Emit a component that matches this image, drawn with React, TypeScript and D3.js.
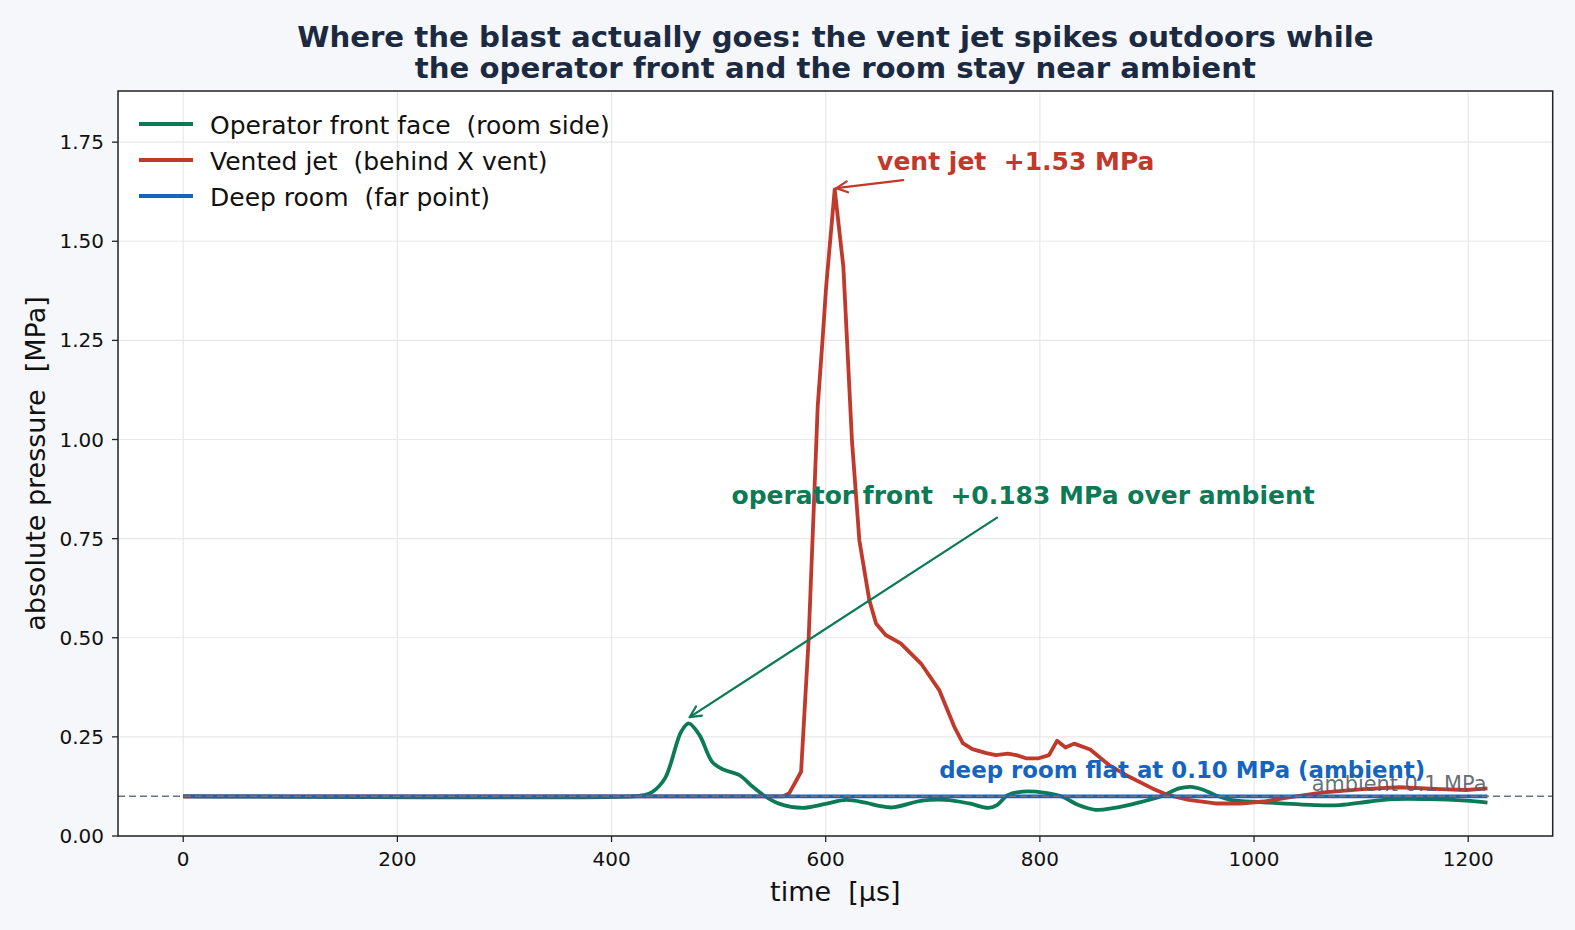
import React from "react";
import * as d3 from "d3";

// ---------- data ----------
const tFront = [0, 420, 430, 438, 450, 465, 472, 482, 494, 504, 519, 532, 544, 557, 578, 600, 619, 637, 650, 662, 690, 712, 734, 752, 760, 770, 784, 805, 821, 836, 852, 868, 892, 914, 930, 941, 951, 964, 978, 1009, 1056, 1080, 1108, 1130, 1164, 1198, 1218];
const pFront = [0.1, 0.1, 0.103, 0.111, 0.146, 0.263, 0.284, 0.255, 0.187, 0.168, 0.154, 0.124, 0.099, 0.081, 0.071, 0.081, 0.091, 0.084, 0.076, 0.072, 0.089, 0.091, 0.082, 0.071, 0.078, 0.103, 0.112, 0.109, 0.099, 0.078, 0.066, 0.07, 0.084, 0.101, 0.12, 0.124, 0.118, 0.103, 0.091, 0.085, 0.078, 0.078, 0.087, 0.093, 0.093, 0.089, 0.084];

const tJet = [0, 560, 566, 577, 584, 589.5, 592.5, 597, 600.4, 608.4, 616.5, 624.5, 631.4, 640.7, 647, 656, 670, 689, 706, 720, 728, 737, 750, 759, 770, 778, 787, 799, 808.5, 816, 824, 832, 847, 864.5, 883, 905, 920, 939, 964, 987, 1009, 1034, 1065, 1102, 1136, 1174, 1198, 1218];
const pJet = [0.1, 0.1, 0.108, 0.162, 0.494, 0.872, 1.082, 1.25, 1.385, 1.631, 1.435, 0.998, 0.746, 0.595, 0.536, 0.507, 0.486, 0.435, 0.368, 0.276, 0.234, 0.219, 0.209, 0.204, 0.208, 0.204, 0.196, 0.196, 0.204, 0.24, 0.223, 0.233, 0.218, 0.179, 0.15, 0.12, 0.103, 0.091, 0.082, 0.082, 0.087, 0.098, 0.11, 0.118, 0.123, 0.118, 0.116, 0.12];

const tDeep = [0, 1218];
const pDeep = [0.1, 0.1];

const AMBIENT = 0.1;
const xTicks = [0, 200, 400, 600, 800, 1000, 1200];
const yTicks = [0, 0.25, 0.5, 0.75, 1.0, 1.25, 1.5, 1.75];

const seriesNames = [
  "Operator front face  (room side)",
  "Vented jet  (behind X vent)",
  "Deep room  (far point)",
];
const titleLines = [
  "Where the blast actually goes: the vent jet spikes outdoors while",
  "the operator front and the room stay near ambient",
];

// ---------- style ----------
const W = 1575, H = 930;
const L = 118, R = 1552.7, T = 91, B = 836;
const GREEN = "#0b7a55", RED = "#c0392b", BLUE = "#1565c0";
const FONT = "DejaVu Sans";
const PRE: any = { whiteSpace: "pre" };

function Arrow({ x1, y1, x2, y2, color }: any) {
  const ang = Math.atan2(y2 - y1, x2 - x1);
  const hl = 11, hw = 5.5;
  const bx = x2 - hl * Math.cos(ang), by = y2 - hl * Math.sin(ang);
  const px = -Math.sin(ang) * hw, py = Math.cos(ang) * hw;
  return (
    <g stroke={color} strokeWidth={2.2} fill="none" strokeLinecap="round" strokeLinejoin="round">
      <line x1={x1} y1={y1} x2={x2} y2={y2} />
      <path d={`M${bx + px},${by + py} L${x2},${y2} L${bx - px},${by - py}`} />
    </g>
  );
}

export default function App() {
  const x = d3.scaleLinear().domain([-60.9, 1278.9]).range([L, R]);
  const y = d3.scaleLinear().domain([0, 1.879]).range([B, T]);

  const mk = (ts: number[], ps: number[], curve: any) =>
    d3.line<number>()
      .x((t) => x(t))
      .y((_, i) => y(ps[i]))
      .curve(curve)(ts) as string;

  const dFront = mk(tFront, pFront, d3.curveCatmullRom.alpha(0.5));
  const dJet = mk(tJet, pJet, d3.curveLinear);
  const dDeep = mk(tDeep, pDeep, d3.curveLinear);

  const legendColors = [GREEN, RED, BLUE];

  return (
    <svg width={W} height={H} style={{ position: "absolute", left: 0, top: 0 }} fontFamily={FONT} xmlSpace="preserve">
      <rect x={0} y={0} width={W} height={H} fill="#f5f7fa" />
      <rect x={L} y={T} width={R - L} height={B - T} fill="#ffffff" />
      <defs>
        <clipPath id="plot">
          <rect x={L} y={T} width={R - L} height={B - T} />
        </clipPath>
      </defs>

      {/* grid */}
      <g stroke="#e8e8e8" strokeWidth={1.2}>
        {xTicks.map((t) => (
          <line key={"gx" + t} x1={x(t)} x2={x(t)} y1={T} y2={B} />
        ))}
        {yTicks.map((v) => (
          <line key={"gy" + v} x1={L} x2={R} y1={y(v)} y2={y(v)} />
        ))}
      </g>

      {/* series */}
      <g clipPath="url(#plot)" fill="none" strokeLinejoin="round">
        <path d={dFront} stroke={GREEN} strokeWidth={3.8} />
        <path d={dJet} stroke={RED} strokeWidth={3.8} />
        <path d={dDeep} stroke={BLUE} strokeWidth={3.8} />
        <line x1={L} x2={R} y1={y(AMBIENT)} y2={y(AMBIENT)} stroke="#6b7280" strokeWidth={1.5} strokeDasharray="7,4" />
      </g>

      {/* annotations */}
      <text x={x(1217)} y={y(AMBIENT) - 5} fontSize={20.8} fill="#555b66" fillOpacity={0.9} textAnchor="end" style={PRE}>
        ambient 0.1 MPa
      </text>
      <text x={x(706)} y={y(0.166)} fontSize={22.9} fontWeight="bold" fill={BLUE} dominantBaseline="central" style={PRE}>
        deep room flat at 0.10 MPa (ambient)
      </text>
      <text x={x(512)} y={y(0.86)} fontSize={25} fontWeight="bold" fill={GREEN} dominantBaseline="central" style={PRE}>
        operator front  +0.183 MPa over ambient
      </text>
      <Arrow x1={x(760)} y1={y(0.803)} x2={x(473)} y2={y(0.3)} color={GREEN} />
      <text x={x(648)} y={y(1.702)} fontSize={25} fontWeight="bold" fill={RED} dominantBaseline="central" style={PRE}>
        vent jet  +1.53 MPa
      </text>
      <Arrow x1={x(672.4)} y1={y(1.654)} x2={x(610)} y2={y(1.634)} color={RED} />

      {/* legend */}
      {seriesNames.map((n, i) => (
        <g key={n}>
          <line x1={139} x2={193} y1={124 + i * 36} y2={124 + i * 36} stroke={legendColors[i]} strokeWidth={4} />
          <text x={210} y={125 + i * 36} fontSize={25} fill="#111" dominantBaseline="central" style={PRE}>
            {n}
          </text>
        </g>
      ))}

      {/* axes */}
      <rect x={L} y={T} width={R - L} height={B - T} fill="none" stroke="#222" strokeWidth={1.5} />
      <g fontSize={20} fill="#111">
        {xTicks.map((t) => (
          <g key={"tx" + t}>
            <line x1={x(t)} x2={x(t)} y1={B} y2={B + 6} stroke="#222" strokeWidth={1.3} />
            <text x={x(t)} y={B + 23} textAnchor="middle" dominantBaseline="central">
              {t}
            </text>
          </g>
        ))}
        {yTicks.map((v) => (
          <g key={"ty" + v}>
            <line x1={L - 6} x2={L} y1={y(v)} y2={y(v)} stroke="#222" strokeWidth={1.3} />
            <text x={L - 14} y={y(v)} textAnchor="end" dominantBaseline="central">
              {d3.format(".2f")(v)}
            </text>
          </g>
        ))}
      </g>
      <text x={(L + R) / 2} y={891} fontSize={27} textAnchor="middle" dominantBaseline="central" fill="#111" style={PRE}>
        time  [µs]
      </text>
      <text
        transform={`translate(35,${(T + B) / 2}) rotate(-90)`}
        fontSize={27}
        textAnchor="middle"
        dominantBaseline="central"
        fill="#111"
        style={PRE}
      >
        absolute pressure  [MPa]
      </text>

      {/* title */}
      {titleLines.map((s, i) => (
        <text key={i} x={(L + R) / 2} y={37 + i * 31} fontSize={29.2} fontWeight="bold" fill="#1b2a41" textAnchor="middle" dominantBaseline="central">
          {s}
        </text>
      ))}
    </svg>
  );
}
